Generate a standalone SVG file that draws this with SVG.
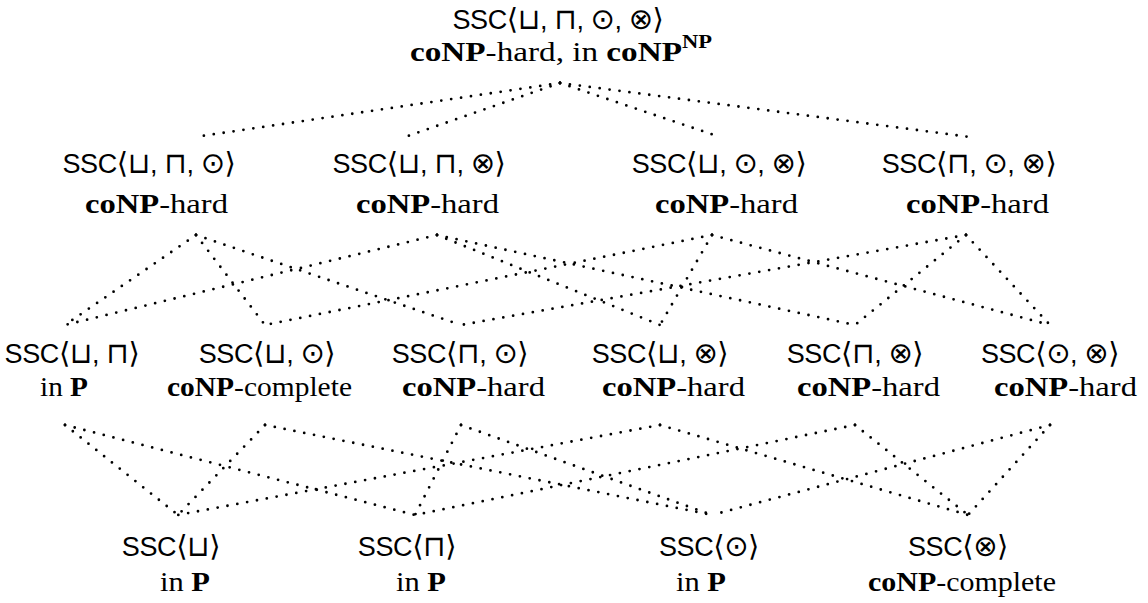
<svg xmlns="http://www.w3.org/2000/svg" width="1148" height="603" viewBox="0 0 1148 603">
<style>
.s{font-family:"Liberation Sans","DejaVu Sans",sans-serif;font-size:27px;fill:#000;text-anchor:middle;letter-spacing:-0.4px}
.m{font-family:"DejaVu Sans",sans-serif;font-size:29px}
.r{font-family:"Liberation Serif","DejaVu Serif",serif;font-size:28px;fill:#000}
.b{font-weight:bold}
.e line{stroke:#000;stroke-width:2.8;stroke-linecap:round;stroke-dasharray:0 10;fill:none}
</style>
<rect width="1148" height="603" fill="#fff"/>
<g id="n-top">
<text class="s" x="558" y="29">SSC<tspan class="m">⟨⊔</tspan>, <tspan class="m">⊓</tspan>, <tspan class="m">⊙</tspan>, <tspan class="m">⊗⟩</tspan></text>
<text class="r" x="410" y="61" textLength="302" lengthAdjust="spacingAndGlyphs"><tspan class="b">coNP</tspan>-hard, in <tspan class="b">coNP</tspan><tspan class="b" dy="-13" font-size="19">NP</tspan></text>
</g>
<g id="n-uum">
<text class="s" x="149" y="173">SSC<tspan class="m">⟨⊔</tspan>, <tspan class="m">⊓</tspan>, <tspan class="m">⊙⟩</tspan></text>
<text class="r" x="85" y="213" textLength="143" lengthAdjust="spacingAndGlyphs"><tspan class="b">coNP</tspan>-hard</text>
</g>
<g id="n-uuo">
<text class="s" x="419" y="173">SSC<tspan class="m">⟨⊔</tspan>, <tspan class="m">⊓</tspan>, <tspan class="m">⊗⟩</tspan></text>
<text class="r" x="356" y="213" textLength="143" lengthAdjust="spacingAndGlyphs"><tspan class="b">coNP</tspan>-hard</text>
</g>
<g id="n-umo">
<text class="s" x="719" y="173">SSC<tspan class="m">⟨⊔</tspan>, <tspan class="m">⊙</tspan>, <tspan class="m">⊗⟩</tspan></text>
<text class="r" x="655" y="213" textLength="143" lengthAdjust="spacingAndGlyphs"><tspan class="b">coNP</tspan>-hard</text>
</g>
<g id="n-nmo">
<text class="s" x="969" y="173">SSC<tspan class="m">⟨⊓</tspan>, <tspan class="m">⊙</tspan>, <tspan class="m">⊗⟩</tspan></text>
<text class="r" x="906" y="213" textLength="143" lengthAdjust="spacingAndGlyphs"><tspan class="b">coNP</tspan>-hard</text>
</g>
<g id="n-un">
<text class="s" x="72" y="363">SSC<tspan class="m">⟨⊔</tspan>, <tspan class="m">⊓⟩</tspan></text>
<text class="r" x="40" y="396" textLength="48" lengthAdjust="spacingAndGlyphs">in <tspan class="b">P</tspan></text>
</g>
<g id="n-um">
<text class="s" x="267" y="363">SSC<tspan class="m">⟨⊔</tspan>, <tspan class="m">⊙⟩</tspan></text>
<text class="r" x="167" y="396" textLength="185" lengthAdjust="spacingAndGlyphs"><tspan class="b">coNP</tspan>-complete</text>
</g>
<g id="n-nm">
<text class="s" x="460" y="363">SSC<tspan class="m">⟨⊓</tspan>, <tspan class="m">⊙⟩</tspan></text>
<text class="r" x="402" y="396" textLength="143" lengthAdjust="spacingAndGlyphs"><tspan class="b">coNP</tspan>-hard</text>
</g>
<g id="n-uo">
<text class="s" x="660" y="363">SSC<tspan class="m">⟨⊔</tspan>, <tspan class="m">⊗⟩</tspan></text>
<text class="r" x="602" y="396" textLength="143" lengthAdjust="spacingAndGlyphs"><tspan class="b">coNP</tspan>-hard</text>
</g>
<g id="n-no">
<text class="s" x="855" y="363">SSC<tspan class="m">⟨⊓</tspan>, <tspan class="m">⊗⟩</tspan></text>
<text class="r" x="797" y="396" textLength="143" lengthAdjust="spacingAndGlyphs"><tspan class="b">coNP</tspan>-hard</text>
</g>
<g id="n-mo">
<text class="s" x="1050" y="363">SSC<tspan class="m">⟨⊙</tspan>, <tspan class="m">⊗⟩</tspan></text>
<text class="r" x="994" y="396" textLength="143" lengthAdjust="spacingAndGlyphs"><tspan class="b">coNP</tspan>-hard</text>
</g>
<g id="n-u">
<text class="s" x="171" y="556">SSC<tspan class="m">⟨⊔⟩</tspan></text>
<text class="r" x="160" y="591" textLength="50" lengthAdjust="spacingAndGlyphs">in <tspan class="b">P</tspan></text>
</g>
<g id="n-n">
<text class="s" x="407" y="556">SSC<tspan class="m">⟨⊓⟩</tspan></text>
<text class="r" x="396" y="591" textLength="50" lengthAdjust="spacingAndGlyphs">in <tspan class="b">P</tspan></text>
</g>
<g id="n-m">
<text class="s" x="709" y="556">SSC<tspan class="m">⟨⊙⟩</tspan></text>
<text class="r" x="676" y="591" textLength="50" lengthAdjust="spacingAndGlyphs">in <tspan class="b">P</tspan></text>
</g>
<g id="n-o">
<text class="s" x="958" y="556">SSC<tspan class="m">⟨⊗⟩</tspan></text>
<text class="r" x="868" y="591" textLength="188" lengthAdjust="spacingAndGlyphs"><tspan class="b">coNP</tspan>-complete</text>
</g>
<g id="edges" class="e">
<line x1="560" y1="83" x2="195" y2="137"/>
<line x1="560" y1="83" x2="405" y2="137"/>
<line x1="560" y1="83" x2="720" y2="137"/>
<line x1="560" y1="83" x2="970" y2="137"/>
<line x1="196" y1="235" x2="65" y2="325"/>
<line x1="196" y1="235" x2="265" y2="325"/>
<line x1="196" y1="235" x2="461" y2="325"/>
<line x1="437" y1="235" x2="65" y2="325"/>
<line x1="437" y1="235" x2="660" y2="325"/>
<line x1="437" y1="235" x2="855" y2="325"/>
<line x1="712" y1="235" x2="265" y2="325"/>
<line x1="712" y1="235" x2="660" y2="325"/>
<line x1="712" y1="235" x2="1050" y2="325"/>
<line x1="966" y1="235" x2="461" y2="325"/>
<line x1="966" y1="235" x2="855" y2="325"/>
<line x1="966" y1="235" x2="1050" y2="325"/>
<line x1="65" y1="425" x2="178" y2="515"/>
<line x1="65" y1="425" x2="415" y2="515"/>
<line x1="265" y1="425" x2="178" y2="515"/>
<line x1="265" y1="425" x2="712" y2="515"/>
<line x1="461" y1="425" x2="415" y2="515"/>
<line x1="461" y1="425" x2="712" y2="515"/>
<line x1="660" y1="425" x2="178" y2="515"/>
<line x1="660" y1="425" x2="968" y2="515"/>
<line x1="855" y1="425" x2="415" y2="515"/>
<line x1="855" y1="425" x2="968" y2="515"/>
<line x1="1050" y1="425" x2="712" y2="515"/>
<line x1="1050" y1="425" x2="968" y2="515"/>
</g>
</svg>
